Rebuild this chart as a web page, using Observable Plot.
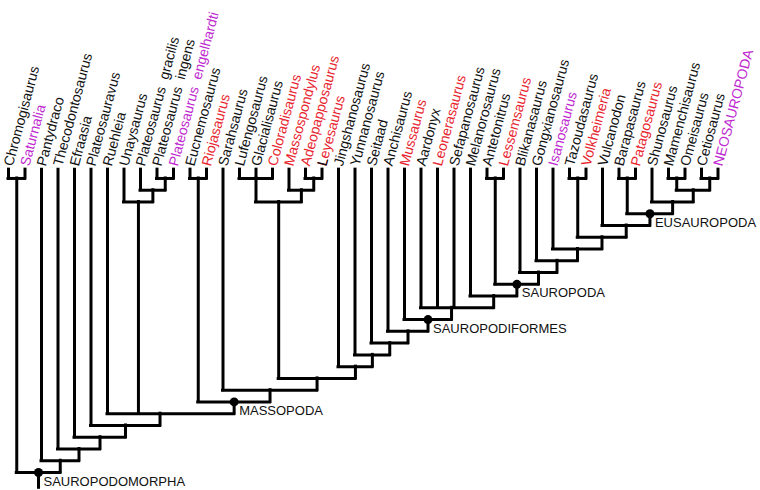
<!DOCTYPE html>
<html><head><meta charset="utf-8">
<script src="https://cdn.jsdelivr.net/npm/d3@7"></script>
<script src="https://cdn.jsdelivr.net/npm/@observablehq/plot@0.6"></script>
<style>body{margin:0;background:#fff}</style>
</head><body><div id="chart"></div>
<script>
// Leaf taxa, left to right
const taxa = [
  "Chromogisaurus","Saturnalia","Pantydraco","Thecodontosaurus","Efraasia",
  "Plateosauravus","Ruehleia","Unaysaurus","Plateosaurus\u00a0\u00a0gracilis",
  "Plateosaurus\u00a0\u00a0ingens","Plateosaurus\u00a0\u00a0engelhardti","Eucnemosaurus",
  "Riojasaurus","Sarahsaurus","Lufengosaurus","Glacialisaurus","Coloradisaurus",
  "Massospondylus","Adeopapposaurus","Leyesaurus","Jingshanosaurus","Yunnanosaurus",
  "Seitaad","Anchisaurus","Mussaurus","Aardonyx","Leonerasaurus","Sefapanosaurus",
  "Melanorosaurus","Antetonitrus","Lessemsaurus","Blikanasaurus","Gongxianosaurus",
  "Isanosaurus","Tazoudasaurus","Volkheimeria","Vulcanodon","Barapasaurus",
  "Patagosaurus","Shunosaurus","Mamenchisaurus","Omeisaurus","Cetiosaurus","NEOSAUROPODA"
];
const redTaxa = ["Riojasaurus","Coloradisaurus","Massospondylus","Adeopapposaurus","Leyesaurus",
  "Mussaurus","Leonerasaurus","Lessemsaurus","Volkheimeria","Patagosaurus"];
const purpleTaxa = ["Saturnalia","Plateosaurus\u00a0\u00a0engelhardti","Isanosaurus","NEOSAUROPODA"];

// Tree topology (leaf indices)
const neo = [[40,41],[42,43]];
const cladeF = [39, neo];
const Eusauropoda = [[37,38], cladeF];
const cladeH = [36, Eusauropoda];
const cladeI = [[34,35], cladeH];
const cladeJ = [33, cladeI];
const cladeK = [32, cladeJ];
const cladeL = [31, cladeK];
const Sauropoda = [[29,30], cladeL];
const cladeM = [28, Sauropoda];
const cladeN = [25, 26, 27, cladeM];
const Sauropodiformes = [24, cladeN];
const cladeO = [23, Sauropodiformes];
const cladeP = [22, cladeO];
const cladeQ = [21, cladeP];
const cladeR = [20, cladeQ];
const massospondylids = [[14,15,16],[17,[18,19]]];
const cladeS = [massospondylids, cladeR];
const cladeT = [13, cladeS];
const Massopoda = [[11,12], cladeT];
const plateosaurids = [7,[8,[9,10]]];
const cladeU = [6, plateosaurids, Massopoda];
const cladeV = [5, cladeU];
const cladeW = [4, cladeV];
const cladeX = [3, cladeW];
const cladeY = [2, cladeX];
const root = [[0,1], cladeY];

const cladeNames = ["SAUROPODOMORPHA","MASSOPODA","SAUROPODIFORMES","SAUROPODA","EUSAUROPODA"];
const cladeNodes = [root, Massopoda, Sauropodiformes, Sauropoda, Eusauropoda];

const leafTop = 0.25;
const pos = new Map();
const vSeg = [], hSeg = [];
function layout(node) {
  if (typeof node === "number") return {x: node, h: 0};
  const kids = node.map(layout);
  const x = d3.mean(kids, k => k.x);
  const h = d3.max(kids, k => k.h) + 1;
  for (const k of kids) vSeg.push({x: k.x, y1: k.h === 0 ? leafTop : k.h, y2: h});
  hSeg.push({y: h, x1: d3.min(kids, k => k.x), x2: d3.max(kids, k => k.x)});
  const p = {x, h};
  pos.set(node, p);
  return p;
}
const rp = layout(root);
vSeg.push({x: rp.x, y1: rp.h, y2: rp.h + 1.3});

const cladeData = cladeNames.map((name, i) => ({name, ...pos.get(cladeNodes[i])}));
const leafData = taxa.map((name, i) => ({name, i,
  color: redTaxa.includes(name) ? "#e8252f" : purpleTaxa.includes(name) ? "#c02ad0" : "#111"}));
const overlay = [{name: "L", i: taxa.indexOf("Leyesaurus")}];

const chart = Plot.plot({
  width: 760, height: 490, margin: 0,
  x: {domain: [0, 43], range: [8, 717.5], axis: null},
  y: {domain: [0, 26], range: [166.2, 472], axis: null},
  style: {fontFamily: "'Liberation Sans', Arial, sans-serif", background: "white", overflow: "visible"},
  marks: [
    Plot.ruleX(vSeg, {x: "x", y1: "y1", y2: "y2", stroke: "black", strokeWidth: 3, strokeLinecap: "square"}),
    Plot.ruleY(hSeg, {y: "y", x1: "x1", x2: "x2", stroke: "black", strokeWidth: 3, strokeLinecap: "square"}),
    Plot.dot(cladeData, {x: "x", y: "h", r: 4.5, fill: "black", stroke: null}),
    Plot.text(cladeData, {x: "x", y: "h", text: "name", textAnchor: "start", dx: 5, dy: 9, fontSize: 13, fill: "#111"}),
    Plot.text(leafData, {x: "i", y: leafTop, text: "name", rotate: -75, textAnchor: "start", dy: -4, fontSize: 14, fill: "color"}),
    Plot.text(overlay, {x: "i", y: leafTop, text: "name", rotate: -75, textAnchor: "start", dy: -4, fontSize: 14, fill: "#111"})
  ]
});
document.getElementById("chart").append(chart);
</script>
</body></html>
